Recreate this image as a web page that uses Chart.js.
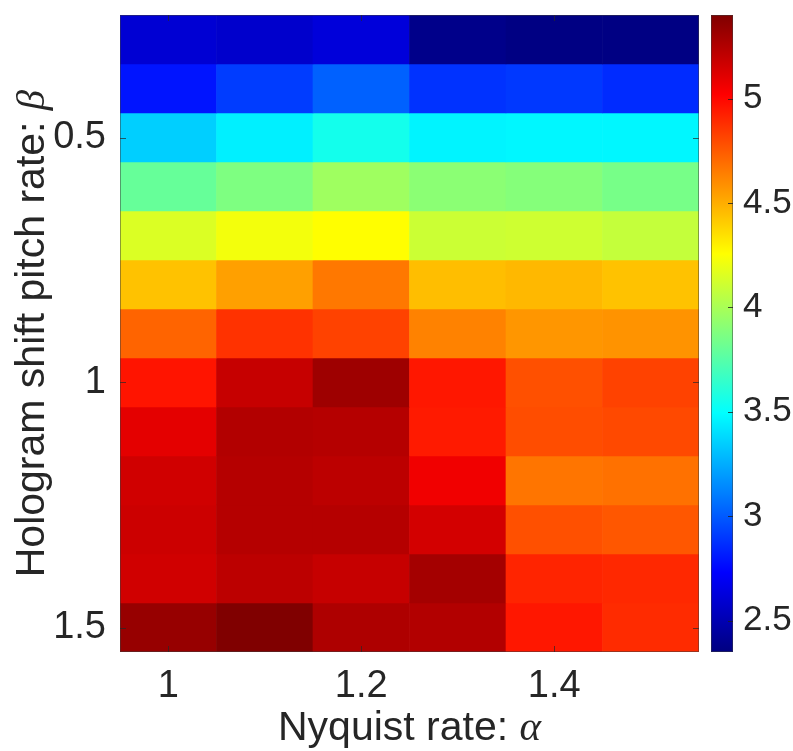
<!DOCTYPE html>
<html>
<head>
<meta charset="utf-8">
<script src="https://cdn.jsdelivr.net/npm/chart.js@4"></script>
<style>
  html, body { margin: 0; padding: 0; background: #fff; }
  #wrap { width: 793px; height: 751px; position: relative; }
</style>
</head>
<body>
<div id="wrap"><canvas id="c"></canvas></div>
<script>
// Grid axes
const alphaValues = [1.0, 1.1, 1.2, 1.3, 1.4, 1.5];
const betaValues = [0.3, 0.4, 0.5, 0.6, 0.7, 0.8, 0.9, 1.0, 1.1, 1.2, 1.3, 1.4, 1.5];

// Cell values, one row per beta (columns follow alphaValues)
const beta03 = [2.60, 2.58, 2.62, 2.38, 2.36, 2.36];
const beta04 = [2.79, 2.91, 3.02, 2.88, 2.90, 2.86];
const beta05 = [3.35, 3.45, 3.55, 3.46, 3.47, 3.47];
const beta06 = [3.80, 3.87, 3.97, 3.91, 3.89, 3.85];
const beta07 = [4.15, 4.22, 4.26, 4.10, 4.11, 4.08];
const beta08 = [4.44, 4.54, 4.66, 4.45, 4.47, 4.44];
const beta09 = [4.72, 4.87, 4.82, 4.63, 4.57, 4.58];
const beta10 = [4.96, 5.19, 5.31, 4.95, 4.78, 4.82];
const beta11 = [5.10, 5.25, 5.24, 4.94, 4.79, 4.80];
const beta12 = [5.16, 5.24, 5.22, 5.06, 4.67, 4.68];
const beta13 = [5.17, 5.24, 5.24, 5.15, 4.78, 4.76];
const beta14 = [5.16, 5.22, 5.19, 5.29, 4.91, 4.90];
const beta15 = [5.33, 5.40, 5.26, 5.25, 4.95, 4.89];
const rows = [beta03, beta04, beta05, beta06, beta07, beta08, beta09,
              beta10, beta11, beta12, beta13, beta14, beta15];

// Tick labels
const xTickLabels = ['1', '1.2', '1.4'];
const yTickLabels = ['0.5', '1', '1.5'];
const cTickLabels = ['2.5', '3', '3.5', '4', '4.5', '5'];

// Colour limits
const cMin = 2.35;
const cMax = 5.40;

const FONT = '"Liberation Sans", Arial, Helvetica, sans-serif';
const GREEK = '"Liberation Serif", "Times New Roman", serif';

function jet(v) {
  let t = (v - cMin) / (cMax - cMin);
  t = Math.max(0, Math.min(1, t));
  const cl = x => Math.round(255 * Math.max(0, Math.min(1, x)));
  const r = cl(1.5 - Math.abs(4 * t - 3));
  const g = cl(1.5 - Math.abs(4 * t - 2));
  const b = cl(1.5 - Math.abs(4 * t - 1));
  return `rgb(${r},${g},${b})`;
}

const halfStep = 0.05;
const datasets = betaValues.map((b, i) => ({
  label: 'beta ' + b,
  data: alphaValues.map(() => [b - halfStep, b + halfStep]),
  backgroundColor: rows[i].map(jet),
  borderWidth: 0,
  grouped: false,
  barPercentage: 1,
  categoryPercentage: 1
}));

// Scales keep a fixed box so the plot area sits where it should
function fixBox(size, key) {
  return s => {
    s[key] = size;
    s.paddingTop = 0; s.paddingBottom = 0;
    s.paddingLeft = 0; s.paddingRight = 0;
  };
}

// Colour bar, tick marks, frame and axis titles
const decorations = {
  id: 'decorations',
  afterDatasetsDraw(chart) {
    const ctx = chart.ctx;
    const area = chart.chartArea;
    const xs = chart.scales.x, ys = chart.scales.y, cs = chart.scales.c;
    ctx.save();

    // frame
    ctx.strokeStyle = 'rgba(60,60,60,0.5)';
    ctx.lineWidth = 1;
    ctx.strokeRect(area.left + 0.5, area.top + 0.5, area.right - area.left - 1, area.bottom - area.top - 1);

    // inward ticks on the plot box
    ctx.strokeStyle = 'rgba(40,40,40,0.7)';
    ctx.beginPath();
    xTickLabels.forEach(lbl => {
      const px = Math.round(xs.getPixelForValue(alphaValues.indexOf(parseFloat(lbl)))) + 0.5;
      ctx.moveTo(px, area.bottom); ctx.lineTo(px, area.bottom - 6);
      ctx.moveTo(px, area.top); ctx.lineTo(px, area.top + 6);
    });
    yTickLabels.forEach(lbl => {
      const py = Math.round(ys.getPixelForValue(parseFloat(lbl))) + 0.5;
      ctx.moveTo(area.left, py); ctx.lineTo(area.left + 6, py);
      ctx.moveTo(area.right, py); ctx.lineTo(area.right - 6, py);
    });
    ctx.stroke();

    // colour bar
    const cbL = area.right + 12, cbW = 22;
    const yTop = cs.getPixelForValue(cMax), yBot = cs.getPixelForValue(cMin);
    const grad = ctx.createLinearGradient(0, yBot, 0, yTop);
    const n = 64;
    for (let k = 0; k <= n; k++) {
      grad.addColorStop(k / n, jet(cMin + (cMax - cMin) * k / n));
    }
    ctx.fillStyle = grad;
    ctx.fillRect(cbL, yTop, cbW, yBot - yTop);
    ctx.strokeStyle = 'rgba(60,60,60,0.5)';
    ctx.strokeRect(cbL + 0.5, yTop + 0.5, cbW - 1, yBot - yTop - 1);
    ctx.strokeStyle = 'rgba(30,30,30,0.8)';
    ctx.beginPath();
    cTickLabels.forEach(lbl => {
      const py = Math.round(cs.getPixelForValue(parseFloat(lbl))) + 0.5;
      ctx.moveTo(cbL + cbW, py); ctx.lineTo(cbL + cbW - 5, py);
    });
    ctx.stroke();

    // axis titles
    ctx.fillStyle = '#262626';
    ctx.textBaseline = 'alphabetic';
    ctx.textAlign = 'left';
    const xMain = 'Nyquist rate: ', xSym = 'α';
    ctx.font = `41px ${FONT}`;
    const w1 = ctx.measureText(xMain).width;
    ctx.font = `italic 41px ${GREEK}`;
    const w2 = ctx.measureText(xSym).width;
    const cx = (area.left + area.right) / 2;
    const xStart = cx - (w1 + w2) / 2;
    ctx.font = `41px ${FONT}`;
    ctx.fillText(xMain, xStart, 740);
    ctx.font = `italic 41px ${GREEK}`;
    ctx.fillText(xSym, xStart + w1, 740);

    const yMain = 'Hologram shift pitch rate: ', ySym = 'β';
    ctx.font = `41px ${FONT}`;
    const v1 = ctx.measureText(yMain).width;
    ctx.font = `italic 41px ${GREEK}`;
    const v2 = ctx.measureText(ySym).width;
    const cy = (area.top + area.bottom) / 2;
    ctx.translate(44, cy);
    ctx.rotate(-Math.PI / 2);
    const yStart = -(v1 + v2) / 2;
    ctx.font = `41px ${FONT}`;
    ctx.fillText(yMain, yStart, 0);
    ctx.font = `italic 41px ${GREEK}`;
    ctx.fillText(ySym, yStart + v1, 0);

    ctx.restore();
  }
};

new Chart(document.getElementById('c'), {
  type: 'bar',
  data: { labels: alphaValues.map(String), datasets },
  options: {
    responsive: true,
    maintainAspectRatio: false,
    animation: false,
    layout: { padding: { top: 15, left: 0, right: 0, bottom: 0 } },
    plugins: { legend: { display: false }, tooltip: { enabled: false } },
    scales: {
      x: {
        type: 'category',
        offset: true,
        grid: { display: false, drawTicks: false },
        border: { display: false },
        ticks: {
          autoSkip: false,
          maxRotation: 0,
          padding: 12,
          color: '#262626',
          font: { family: FONT, size: 38 },
          callback: (val, idx) => {
            const lbl = String(alphaValues[idx]);
            return xTickLabels.includes(lbl) ? lbl : '';
          }
        },
        afterFit: fixBox(99, 'height')
      },
      y: {
        type: 'linear',
        reverse: true,
        min: 0.25,
        max: 1.55,
        grid: { display: false, drawTicks: false },
        border: { display: false },
        afterBuildTicks: s => { s.ticks = yTickLabels.map(v => ({ value: parseFloat(v) })); },
        ticks: {
          padding: 14,
          color: '#262626',
          font: { family: FONT, size: 38 },
          callback: v => yTickLabels.find(l => parseFloat(l) === v)
        },
        afterFit: fixBox(120, 'width')
      },
      c: {
        type: 'linear',
        position: 'right',
        min: cMin,
        max: cMax,
        grid: { display: false, drawTicks: false },
        border: { display: false },
        afterBuildTicks: s => { s.ticks = cTickLabels.map(v => ({ value: parseFloat(v) })); },
        ticks: {
          padding: 44,
          color: '#262626',
          font: { family: FONT, size: 35 },
          callback: v => cTickLabels.find(l => parseFloat(l) === v)
        },
        afterFit: fixBox(94, 'width')
      }
    }
  },
  plugins: [decorations]
});
</script>
</body>
</html>
